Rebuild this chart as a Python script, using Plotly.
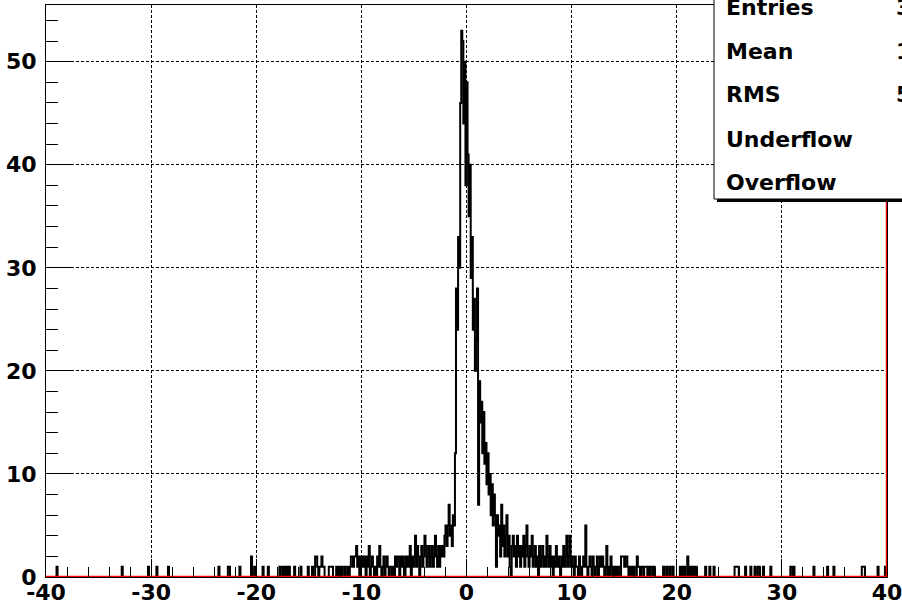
import numpy as np
import plotly.graph_objects as go

# ---------------------------------------------------------------------------
# Histogram: 800 bins of width 0.1 on [-40, 40)
# ---------------------------------------------------------------------------
x_min, x_max, n_bins = -40.0, 40.0, 800
bin_width = (x_max - x_min) / n_bins

# Bin contents from -16.0 up to 17.9, one row per unit of x (10 bins a row)
core_start = -16.0
core_rows = [
    [0, 0, 1, 0, 0, 0, 0, 0, 0, 1],           # -16
    [0, 0, 0, 1, 0, 0, 2, 2, 1, 0],           # -15
    [1, 1, 2, 1, 1, 0, 0, 0, 0, 1],           # -14
    [1, 1, 1, 0, 0, 0, 1, 0, 1, 0],           # -13
    [0, 1, 0, 0, 1, 0, 0, 1, 0, 1],           # -12
    [2, 2, 1, 2, 2, 3, 1, 2, 0, 2],           # -11
    [1, 2, 1, 2, 0, 2, 1, 3, 0, 1],           # -10
    [2, 1, 0, 1, 0, 2, 1, 3, 1, 0],           # -9
    [1, 2, 0, 1, 2, 1, 0, 1, 1, 0],           # -8
    [1, 0, 2, 1, 2, 2, 0, 2, 1, 2],           # -7
    [1, 0, 2, 1, 2, 1, 3, 0, 2, 1],           # -6
    [2, 4, 1, 3, 2, 0, 2, 3, 1, 2],           # -5
    [4, 3, 1, 2, 3, 1, 2, 3, 1, 2],           # -4
    [4, 2, 1, 3, 1, 3, 2, 3, 2, 4],           # -3
    [5, 3, 5, 7, 4, 5, 3, 6, 5, 12],          # -2
    [28, 24, 33, 30, 46, 53, 52, 44, 50, 38],  # -1
    [48, 41, 35, 40, 29, 33, 24, 27, 20, 23],  # 0
    [28, 7, 19, 15, 17, 12, 16, 11, 13, 9],    # 1
    [12, 8, 10, 6, 9, 5, 8, 6, 1, 6],          # 2
    [4, 5, 2, 7, 3, 5, 2, 4, 6, 2],            # 3
    [4, 1, 0, 3, 4, 2, 3, 1, 4, 2],            # 4
    [3, 1, 3, 2, 4, 1, 3, 5, 2, 1],            # 5
    [3, 2, 4, 1, 2, 3, 1, 2, 0, 3],            # 6
    [1, 2, 3, 1, 2, 1, 4, 2, 1, 3],            # 7
    [1, 2, 0, 2, 1, 3, 1, 2, 1, 0],            # 8
    [2, 1, 3, 1, 2, 4, 1, 2, 4, 1],            # 9
    [2, 1, 0, 2, 1, 1, 0, 2, 1, 0],            # 10
    [1, 2, 1, 5, 1, 0, 1, 2, 1, 0],            # 11
    [2, 1, 0, 1, 2, 0, 1, 2, 1, 2],            # 12
    [1, 0, 1, 3, 0, 1, 0, 2, 1, 0],            # 13
    [1, 0, 1, 0, 1, 0, 0, 2, 2, 2],            # 14
    [1, 2, 2, 1, 0, 1, 0, 1, 0, 1],            # 15
    [0, 0, 2, 1, 1, 0, 1, 1, 0, 1],            # 16
    [1, 1, 0, 1, 0, 1, 1, 0, 1, 0],            # 17
]

# Isolated entries in the far tails: bin centres and contents
tail_x = [-38.95, -32.75, -30.25, -29.45, -28.35, -23.55, -22.65, -22.55,
          -21.55, -20.45, -20.15, -19.35, -18.85, -17.75, -17.45, -17.25,
          -17.05, -16.85, -16.35,
          18.75, 19.05, 19.35, 19.65, 20.35, 20.55, 20.75, 21.05, 21.25,
          21.45, 21.65, 21.85, 22.75, 23.15, 23.55, 25.55, 25.65, 25.75,
          25.85, 26.55, 27.05, 27.45, 27.75, 27.85, 28.25, 28.95, 30.85,
          30.95, 31.15, 33.05, 34.35, 34.95, 37.65, 37.75, 37.85, 39.15,
          39.85]
tail_n = [1, 1, 1, 1, 1, 1, 1, 1,
          1, 2, 1, 1, 1, 1, 1, 1,
          1, 1, 1,
          1, 1, 1, 1, 1, 1, 1, 2, 1,
          1, 1, 1, 1, 1, 1, 1, 1, 1,
          1, 1, 1, 1, 1, 1, 1, 1, 1,
          1, 1, 1, 1, 1, 1, 1, 1, 1,
          1]

# Second (red) histogram: empty bins, all of its content in the overflow
red_overflow = 80

# Axis ticks
x_tick_values = [-40, -30, -20, -10, 0, 10, 20, 30, 40]
x_tick_labels = ["-40", "-30", "-20", "-10", "0", "10", "20", "30", "40"]
y_tick_values = [0, 10, 20, 30, 40, 50]
y_tick_labels = ["0", "10", "20", "30", "40", "50"]

# Statistics box
stat_names = ["Entries", "Mean", "RMS", "Underflow", "Overflow"]
stat_values = ["3", "1", "5", "", ""]

# ---------------------------------------------------------------------------
# Build bin arrays
# ---------------------------------------------------------------------------
edges = np.linspace(x_min, x_max, n_bins + 1)
counts = np.zeros(n_bins)
flat = [v for row in core_rows for v in row]
i0 = int(round((core_start - x_min) / bin_width))
counts[i0:i0 + len(flat)] = flat
for xc, n in zip(tail_x, tail_n):
    counts[int((xc - x_min) / bin_width)] += n

black_y = np.append(counts, counts[-1])
red_y = np.append(np.zeros(n_bins), red_overflow)

# ---------------------------------------------------------------------------
# Figure geometry (pixels)
# ---------------------------------------------------------------------------
W, H = 902, 607
ML, MR, MT, MB = 46, 15, 5, 30
PW, PH = W - ML - MR, H - MT - MB


def px(xp):
    return (xp - ML) / PW


def py(yp):
    return (H - MB - yp) / PH


FONT = "DejaVu Sans, Liberation Sans, Arial, sans-serif"
TICK_FONT = dict(family=FONT, size=22, color="black", weight="bold")
STAT_FONT = dict(family=FONT, size=22, color="black", weight="bold")

fig = go.Figure()
fig.add_trace(go.Scatter(
    x=edges, y=black_y, mode="lines", line=dict(color="black", width=2, shape="hv"),
    hoverinfo="skip", showlegend=False,
))
fig.add_trace(go.Scatter(
    x=edges, y=red_y, mode="lines", line=dict(color="#ff0000", width=2.5, shape="hv"),
    hoverinfo="skip", showlegend=False,
))

grid = dict(showgrid=True, gridcolor="black", gridwidth=1, griddash="3px,2px")

fig.update_xaxes(
    range=[x_min, x_max], tickvals=x_tick_values, ticktext=x_tick_labels,
    ticks="inside", ticklen=18, tickwidth=1, tickcolor="black",
    minor=dict(dtick=2, tick0=0, ticks="inside", ticklen=10, tickwidth=1,
               tickcolor="black", showgrid=False),
    showline=True, linecolor="black", linewidth=1, mirror=True,
    zeroline=False, automargin=False, ticklabelstandoff=-4,
    ticklabeloverflow="allow", tickfont=TICK_FONT, **grid,
)
fig.update_yaxes(
    range=[0, 55.5], tickvals=y_tick_values, ticktext=y_tick_labels,
    ticks="inside", ticklen=25, tickwidth=1, tickcolor="black",
    minor=dict(dtick=2, tick0=0, ticks="inside", ticklen=12, tickwidth=1,
               tickcolor="black", showgrid=False),
    showline=True, linecolor="black", linewidth=1, mirror=True,
    zeroline=False, automargin=False, ticklabelstandoff=4,
    ticklabeloverflow="allow", tickfont=TICK_FONT, **grid,
)

# Statistics box with its drop shadow
box_left, box_bottom = 714, 199
fig.add_shape(type="rect", xref="paper", yref="paper", layer="above",
              x0=px(box_left + 3), x1=px(W + 40), y0=py(box_bottom + 3), y1=py(-40),
              fillcolor="black", line=dict(width=0))
fig.add_shape(type="rect", xref="paper", yref="paper", layer="above",
              x0=px(box_left), x1=px(W + 30), y0=py(box_bottom), y1=py(-30),
              fillcolor="white", line=dict(color="black", width=1))

row_centres = [8, 51, 95, 139, 182]
for name, val, yc in zip(stat_names, stat_values, row_centres):
    fig.add_annotation(xref="paper", yref="paper", x=px(724), y=py(yc),
                       text=name, showarrow=False, xanchor="left", yanchor="middle",
                       font=STAT_FONT)
    if val:
        fig.add_annotation(xref="paper", yref="paper", x=px(894), y=py(yc),
                           text=val, showarrow=False, xanchor="left", yanchor="middle",
                           font=STAT_FONT)

fig.update_layout(
    width=W, height=H, autosize=False,
    margin=dict(l=ML, r=MR, t=MT, b=MB, pad=0),
    paper_bgcolor="white", plot_bgcolor="white",
    showlegend=False,
)

fig.write_html("out.html", config={"displayModeBar": False})
